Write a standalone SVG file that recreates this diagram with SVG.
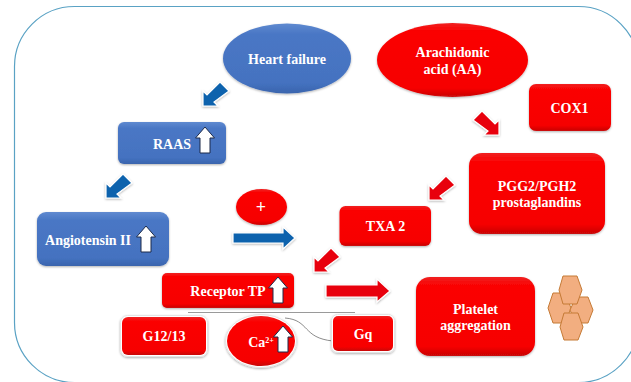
<svg xmlns="http://www.w3.org/2000/svg" width="631" height="382" viewBox="0 0 631 382">
<style>
text{font-family:"Liberation Serif","Times New Roman",serif;font-weight:700;fill:#fff;text-anchor:middle;font-size:14px}
.b{fill:url(#bg)}
.r{fill:url(#rg)}
.n{filter:url(#sh)}
.h{fill:#fff;stroke:#e4e4e4;stroke-width:1;filter:url(#sh)}
.up{fill:#fff;stroke:#1c2b4a;stroke-width:1}
.ab{fill:#0b62ad;stroke:#fff;stroke-width:1.2;filter:url(#sh)}
.ar{fill:#e8000c;stroke:#fff;stroke-width:1.2;filter:url(#sh)}
.hex{fill:#f2ae80;stroke:#c57a35;stroke-width:1}
</style>
<defs>
<linearGradient id="bg" x1="0" y1="0" x2="0" y2="1"><stop offset="0" stop-color="#5f8ad0"/><stop offset=".15" stop-color="#4a77c5"/><stop offset=".85" stop-color="#4472c0"/><stop offset="1" stop-color="#3a64ad"/></linearGradient>
<linearGradient id="rg" x1="0" y1="0" x2="0" y2="1"><stop offset="0" stop-color="#f02020"/><stop offset=".12" stop-color="#fb0000"/><stop offset=".88" stop-color="#f60000"/><stop offset="1" stop-color="#c80808"/></linearGradient>
<filter id="sh" x="-20%" y="-20%" width="140%" height="140%"><feDropShadow dx="0" dy="1" stdDeviation="1" flood-color="#000" flood-opacity=".3"/></filter>
<polygon id="sw" points="0,0 0,-15 4,-11 17,-24 26,-15 11,-4 15,0"/>
<polygon id="upa" points="0,0 9.500,11 5,11 5,26 -5,26 -5,11 -9.500,11"/>
</defs>
<rect x="14.500" y="6.500" width="624" height="376" rx="60" ry="60" fill="#fff" stroke="#5aa2c4" stroke-width="1.200"/>

<g id="connectors">
<use href="#sw" class="ab" transform="translate(203,106)"/>
<use href="#sw" class="ab" transform="translate(106,198)"/>
<use href="#sw" class="ar" transform="translate(429,200)"/>
<use href="#sw" class="ar" transform="translate(314,272)"/>
<use href="#sw" class="ar" transform="translate(499,135) scale(-1,1)"/>
<polygon class="ab" points="233,233 283,233 283,227 295,238 283,249 283,243 233,243"/>
<polygon class="ar" points="326,285 377,285 377,279 390,291 377,302 377,297 326,297"/>
<line x1="188" y1="312.500" x2="355" y2="312.500" stroke="#9a9a9a" stroke-width="1"/>
<path d="M285,318 C310,320 302,338 333,341" fill="none" stroke="#6d6d6d" stroke-width=".8"/>
</g>

<g id="heart-failure"><ellipse class="b n" cx="287" cy="58.500" rx="64" ry="35"/><text x="287" y="64">Heart failure</text></g>
<g id="arachidonic-acid"><ellipse class="r n" cx="452.500" cy="60" rx="75.500" ry="37"/><text x="452.500" y="57">Arachidonic</text><text x="452.500" y="74">acid (AA)</text></g>
<g id="cox1"><rect class="r n" x="529" y="84" width="82" height="47" rx="7"/><text x="569.500" y="113">COX1</text></g>
<g id="pgg"><rect class="r n" x="469" y="153" width="136" height="81" rx="13"/><text x="537" y="191">PGG2/PGH2</text><text x="537" y="207">prostaglandins</text></g>
<g id="txa2"><rect class="r n" x="339.500" y="206" width="91.500" height="40" rx="6"/><text x="385.500" y="231">TXA 2</text></g>
<g id="raas"><rect class="b n" x="118" y="122" width="108" height="42" rx="6"/><text x="172" y="149">RAAS</text><use href="#upa" class="up" transform="translate(205,127)"/></g>
<g id="angiotensin"><rect class="b n" x="37" y="212" width="132" height="54" rx="9"/><text x="88" y="245">Angiotensin II</text><use href="#upa" class="up" transform="translate(146,226)"/></g>
<g id="plus"><ellipse class="r n" cx="261.500" cy="207" rx="25.500" ry="18"/><text x="261" y="213" style="font-size:18px">+</text></g>
<g id="receptor-tp"><rect class="r n" x="162" y="273" width="132" height="35" rx="5"/><text x="228" y="296">Receptor TP</text><use href="#upa" class="up" transform="translate(278,277)"/></g>
<g id="g1213"><rect x="120.500" y="315.500" width="87" height="41" rx="7" class="h"/><rect class="r" x="122" y="317" width="84" height="38" rx="6"/><text x="164" y="341">G12/13</text></g>
<g id="ca"><ellipse cx="261" cy="341" rx="35.500" ry="26.500" class="h"/><ellipse class="r" cx="261" cy="341" rx="34" ry="25"/><text x="261" y="347">Ca<tspan style="font-size:8px" dy="-4">2+</tspan></text><use href="#upa" class="up" transform="translate(283,326)"/></g>
<g id="gq"><rect x="331.500" y="314.500" width="63" height="38" rx="6" class="h"/><rect class="r" x="333" y="316" width="60" height="35" rx="5"/><text x="363" y="339">Gq</text></g>
<g id="platelet"><rect class="r n" x="416" y="277" width="119" height="79" rx="14"/><text x="475.500" y="314">Platelet</text><text x="475.500" y="330">aggregation</text></g>
<g id="platelets">
<polygon class="hex" points="553,293 565,293 571,308 565,323 553,323 548,308"/>
<polygon class="hex" points="576,297 588,297 593,310 588,323 576,323 570,310"/>
<polygon class="hex" points="563,276 577,276 582,290 577,304 563,304 559,290"/>
<polygon class="hex" points="564,313 578,313 583,327 578,340 564,340 560,327"/>
</g>
</svg>
